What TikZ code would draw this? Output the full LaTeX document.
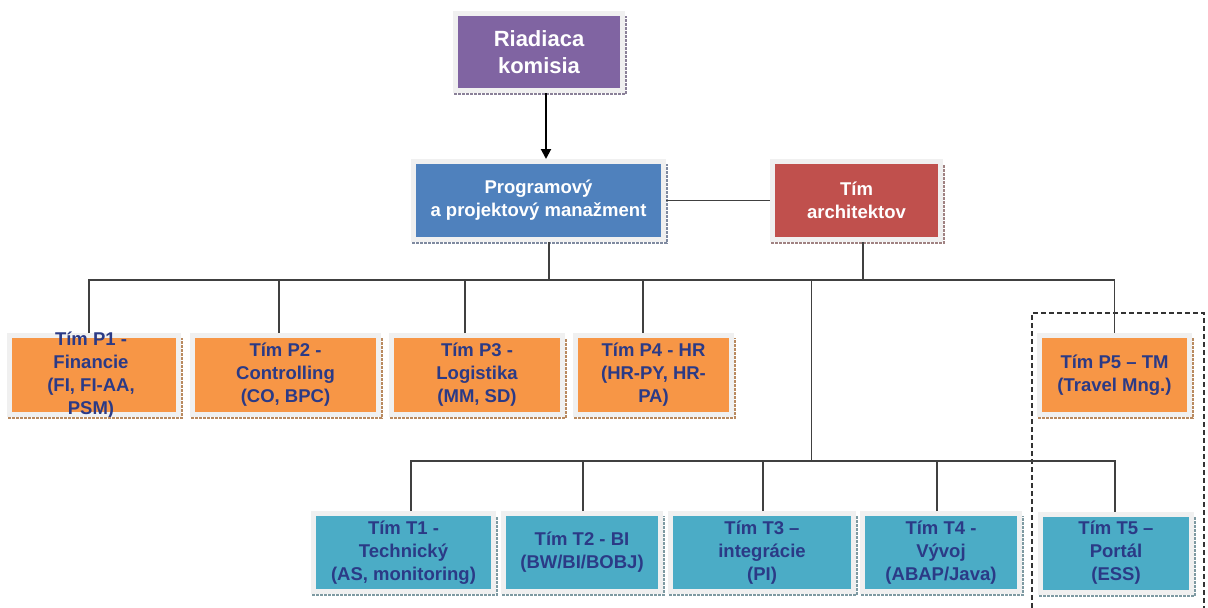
\documentclass[tikz,border=0pt]{standalone}
\usepackage{fontspec}
\setmainfont{Liberation Sans}
\usetikzlibrary{calc,arrows.meta}
\definecolor{cPurple}{HTML}{8064A2}
\definecolor{cBlue}{HTML}{4F81BD}
\definecolor{cRed}{HTML}{C0504D}
\definecolor{cOrange}{HTML}{F79646}
\definecolor{cTeal}{HTML}{4BACC6}
\definecolor{frameGray}{HTML}{F0F0F0}
\definecolor{navyText}{HTML}{2B3A86}
\definecolor{connGray}{HTML}{404040}
\definecolor{shPurple}{HTML}{8A8098}
\definecolor{shBlue}{HTML}{7F8AA0}
\definecolor{shRed}{HTML}{A08282}
\definecolor{shOrange}{HTML}{B98A60}
\definecolor{shTeal}{HTML}{7E9AA2}
\begin{document}
\begin{tikzpicture}[x=1pt,y=-1pt,
  box/.style={draw=frameGray, line width=5pt, align=center, inner sep=0pt,
    font=\bfseries\fontsize{18.5}{23}\selectfont, text=navyText},
  topbox/.style={box, text=white},
  pbox/.style={box, fill=cOrange, minimum height=79pt},
  tbox/.style={box, fill=cTeal, minimum height=78pt},
  conn/.style={draw=connGray, line width=1.5pt},
  shline/.style={line width=2pt, dash pattern=on 3pt off 1pt},
  grp/.style={draw=black!80, line width=1.2pt, dash pattern=on 5pt off 3pt}
]
\useasboundingbox (0,0) rectangle (1208,608);
\fill[white] (0,0) rectangle (1208,608);

\coordinate (pbus) at (0,280);
\coordinate (tbus) at (0,461);

% group frame
\draw[grp] (1032,608) -- (1032,313) -- (1204,313) -- (1204,608);

% top level
\node[topbox, fill=cPurple, minimum width=167pt, minimum height=77pt,
  font=\bfseries\fontsize{22}{27}\selectfont] (rk) at (539,52) {Riadiaca\\komisia};
\node[topbox, fill=cBlue, minimum width=250pt, minimum height=78pt] (ppm) at (538.5,200.5) {Programový\\a projektový manažment};
\node[topbox, fill=cRed, minimum width=168pt, minimum height=78pt] (ta) at (856.5,200.5) {Tím\\architektov};

% P row
\node[pbox, minimum width=169pt] (P1) at (94,375) {};
\node[font=\bfseries\fontsize{18.5}{23}\selectfont, text=navyText, align=center, inner sep=0pt] (P1t) at (91,375) {Tím P1 -\\Financie\\(FI, FI-AA,\\PSM)};
\node[pbox, minimum width=186pt] (P2) at (285.5,375) {Tím P2 -\\Controlling\\(CO, BPC)};
\node[pbox, minimum width=171pt] (P3) at (477,375) {Tím P3 -\\Logistika\\(MM, SD)};
\node[pbox, minimum width=156pt] (P4) at (653.5,375) {Tím P4 - HR\\(HR-PY, HR-\\PA)};
\node[pbox, minimum width=150pt] (P5) at (1114.5,375) {Tím P5 – TM\\(Travel Mng.)};

% T row
\node[tbox, minimum width=180pt] (T1) at (403.5,552.5) {Tím T1 -\\Technický\\(AS, monitoring)};
\node[tbox, minimum width=157pt] (T2) at (582,552.5) {Tím T2 - BI\\(BW/BI/BOBJ)};
\node[tbox, minimum width=183pt] (T3) at (762,552.5) {Tím T3 –\\integrácie\\(PI)};
\node[tbox, minimum width=157pt] (T4) at (941,552.5) {Tím T4 -\\Vývoj\\(ABAP/Java)};
\node[tbox, minimum width=151pt] (T5) at (1116,553) {Tím T5 –\\Portál\\(ESS)};

% shadows (bottom and right)
\foreach \n/\c in {rk/shPurple, ppm/shBlue, ta/shRed, P1/shOrange, P2/shOrange, P3/shOrange, P4/shOrange, P5/shOrange, T1/shTeal, T2/shTeal, T3/shTeal, T4/shTeal, T5/shTeal}{
  \draw[shline, draw=\c] ([xshift=1pt,yshift=-1pt]\n.south west) -- ([xshift=1pt,yshift=-1pt]\n.south east) -- ([xshift=1pt,yshift=-5pt]\n.north east);
}

% connectors
\draw[line width=2pt, -{Triangle[length=10pt,width=10pt]}] ([xshift=7pt]rk.south) -- ([xshift=7pt]rk.south |- ppm.north);
\draw[conn] (ppm.east) -- (ta.west);
\draw[conn] ([xshift=10.5pt]ppm.south) -- ([xshift=10.5pt]ppm.south |- pbus);
\draw[conn] ([xshift=6.5pt]ta.south) -- ([xshift=6.5pt]ta.south |- pbus);
\draw[conn] ([xshift=-5pt]P1.north) -- ([xshift=-5pt]P1.north |- pbus) -- (P5.north |- pbus) -- (P5.north);
\draw[conn] ([xshift=-6.5pt]P2.north) -- ([xshift=-6.5pt]P2.north |- pbus);
\draw[conn] ([xshift=-12pt]P3.north) -- ([xshift=-12pt]P3.north |- pbus);
\draw[conn] ([xshift=-10.5pt]P4.north) -- ([xshift=-10.5pt]P4.north |- pbus);
\draw[conn] ([xshift=-45pt]ta.south |- pbus) -- ([xshift=-45pt]ta.south |- tbus);
\draw[conn] ([xshift=7.5pt]T1.north) -- ([xshift=7.5pt]T1.north |- tbus) -- ([xshift=-1pt]T5.north |- tbus) -- ([xshift=-1pt]T5.north);
\draw[conn] ([xshift=1pt]T2.north) -- ([xshift=1pt]T2.north |- tbus);
\draw[conn] ([xshift=1pt]T3.north) -- ([xshift=1pt]T3.north |- tbus);
\draw[conn] ([xshift=-4pt]T4.north) -- ([xshift=-4pt]T4.north |- tbus);
\end{tikzpicture}
\end{document}
